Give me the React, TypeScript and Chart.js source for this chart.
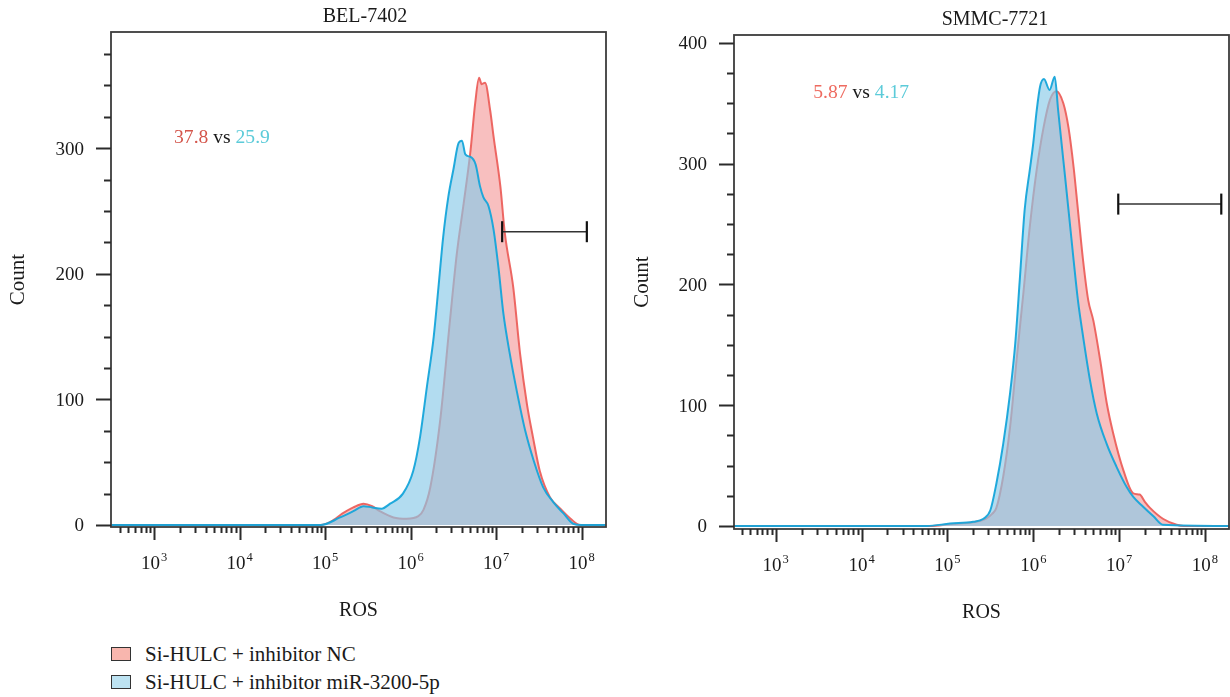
import React, { useEffect, useRef } from 'react';
import { Chart, registerables } from 'chart.js';

Chart.register(...registerables);

// ---------- data (x in log10 units of ROS intensity, y = count) ----------
const belNcX = [2.5, 4.95, 5.1, 5.2, 5.33, 5.45, 5.55, 5.64, 5.8, 5.955, 6.09, 6.15, 6.23, 6.345, 6.46, 6.54, 6.62, 6.7, 6.755, 6.8, 6.83, 6.87, 6.93, 6.97, 7.05, 7.1, 7.2, 7.28, 7.36, 7.43, 7.51, 7.63, 7.75, 7.87, 7.98, 8.28];
const belNcY = [0, 0, 4, 9, 14, 17, 15, 11, 6, 5, 7, 12, 30, 83, 163, 216, 256, 298, 336, 356, 351, 352, 330, 309, 269, 233, 189, 136, 96, 70, 43, 22, 13, 5, 0, 0];

const belMirX = [2.5, 4.95, 5.175, 5.33, 5.45, 5.55, 5.66, 5.76, 5.91, 6.03, 6.11, 6.19, 6.27, 6.325, 6.38, 6.44, 6.5, 6.56, 6.6, 6.64, 6.7, 6.76, 6.81, 6.85, 6.91, 6.97, 7.03, 7.085, 7.16, 7.24, 7.34, 7.44, 7.55, 7.67, 7.79, 7.9, 8.0, 8.28];
const belMirY = [0, 0, 6, 11, 15, 14, 13, 17, 25, 43, 70, 110, 150, 189, 229, 261, 283, 304, 306, 295, 293, 287, 270, 261, 254, 235, 203, 168, 136, 107, 75, 51, 30, 18, 9, 1, 0, 0];

const smmcNcX = [2.5, 4.8, 5.03, 5.3, 5.45, 5.52, 5.57, 5.65, 5.73, 5.805, 5.885, 5.96, 6.04, 6.12, 6.195, 6.27, 6.35, 6.41, 6.47, 6.52, 6.58, 6.64, 6.7, 6.78, 6.855, 6.93, 7.05, 7.165, 7.24, 7.3, 7.36, 7.51, 7.67, 7.75, 8.28];
const smmcNcY = [0, 0, 1.5, 3, 6, 10, 15, 41, 82, 137, 193, 248, 295, 330, 353, 360, 350, 330, 297, 262, 220, 187, 170, 137, 102, 77, 46, 27, 26, 20, 15, 6, 1, 0, 0];

const smmcMirX = [2.5, 4.76, 5.03, 5.3, 5.42, 5.5, 5.57, 5.65, 5.73, 5.79, 5.845, 5.9, 5.96, 6.0, 6.04, 6.08, 6.125, 6.19, 6.25, 6.29, 6.35, 6.41, 6.47, 6.52, 6.58, 6.66, 6.74, 6.855, 6.97, 7.09, 7.165, 7.28, 7.4, 7.51, 8.28];
const smmcMirY = [0, 0, 2, 3.5, 6, 13, 35, 68, 110, 151, 206, 262, 295, 317, 344, 364, 370, 361, 372, 344, 303, 262, 220, 187, 157, 121, 93, 68, 49, 32, 24, 16, 8, 1, 0];

// gates: [x start, x end] in log10 units, and count level
const belGateX = [7.07, 8.06];
const belGateY = [233.5];
const smmcGateX = [6.99, 8.19];
const smmcGateY = [266.5];

// percentages in gate
const belPct = ['37.8', '25.9'];
const smmcPct = ['5.87', '4.17'];

// tick labels
const decades = [3, 4, 5, 6, 7, 8];
const belCountTicks = [0, 100, 200, 300];
const smmcCountTicks = [0, 100, 200, 300, 400];

const legendLabels = ['Si-HULC + inhibitor NC', 'Si-HULC + inhibitor miR-3200-5p'];
const titles = ['BEL-7402', 'SMMC-7721'];

// ---------- styles ----------
const FONT = '"Liberation Serif", "DejaVu Serif", serif';
const RED_LINE = 'rgba(236, 96, 92, 0.95)';
const RED_FILL = 'rgba(242, 128, 128, 0.5)';
const BLUE_LINE = 'rgba(22, 165, 218, 0.95)';
const BLUE_FILL = 'rgba(138, 202, 232, 0.66)';
const AXIS = '#2b2b2b';

const decorPlugin = {
  id: 'decor',
  afterDraw(chart: any, _args: any, o: any) {
    const { ctx, chartArea: a } = chart;
    const x = chart.scales.x;
    const y = chart.scales.y;
    ctx.save();

    // frame
    ctx.strokeStyle = '#3c3c3c';
    ctx.lineWidth = 1.8;
    ctx.strokeRect(a.left, a.top, a.right - a.left, a.bottom - a.top);

    // y ticks
    ctx.strokeStyle = AXIS;
    ctx.lineWidth = 2;
    for (let v = 0; v <= y.max; v += 25) {
      const py = Math.round(y.getPixelForValue(v)) + 0.5;
      const major = v % 100 === 0;
      ctx.beginPath();
      ctx.moveTo(a.left - (major ? 15 : 7), py);
      ctx.lineTo(a.left, py);
      ctx.stroke();
    }
    ctx.fillStyle = '#1a1a1a';
    ctx.font = `19px ${FONT}`;
    ctx.textAlign = 'right';
    ctx.textBaseline = 'alphabetic';
    o.countTicks.forEach((v: number) => {
      ctx.fillText(String(v), a.left - 27, y.getPixelForValue(v) + 6.5);
    });

    // x ticks
    ctx.lineWidth = 2;
    for (let d = 2; d <= 8; d++) {
      for (let m = 1; m <= 9; m++) {
        const v = d + Math.log10(m);
        if (v < x.min || v > x.max) continue;
        const px = Math.round(x.getPixelForValue(v)) + 0.5;
        ctx.beginPath();
        ctx.moveTo(px, a.bottom);
        ctx.lineTo(px, a.bottom + (m === 1 ? 13 : 6));
        ctx.stroke();
      }
    }
    // x labels 10^n
    decades.forEach((d) => {
      const px = x.getPixelForValue(d);
      ctx.font = `19px ${FONT}`;
      const wBase = ctx.measureText('10').width;
      ctx.font = `12.5px ${FONT}`;
      const wSup = ctx.measureText(String(d)).width;
      const start = px - (wBase + wSup + 1) / 2;
      const base = a.bottom + 42;
      ctx.textAlign = 'left';
      ctx.font = `19px ${FONT}`;
      ctx.fillText('10', start, base);
      ctx.font = `12.5px ${FONT}`;
      ctx.fillText(String(d), start + wBase + 1, base - 8.3);
    });

    // axis titles
    ctx.font = `20px ${FONT}`;
    ctx.textAlign = 'center';
    ctx.fillText('ROS', (a.left + a.right) / 2, a.bottom + 88.5);
    ctx.save();
    ctx.translate(a.left - o.countOffset, (a.top + a.bottom) / 2);
    ctx.rotate(-Math.PI / 2);
    ctx.textBaseline = 'middle';
    ctx.font = `21px ${FONT}`;
    ctx.fillText('Count', 0, 0);
    ctx.restore();

    // chart title
    ctx.font = `20px ${FONT}`;
    ctx.textAlign = 'center';
    ctx.textBaseline = 'alphabetic';
    ctx.fillText(o.title, a.left + o.titleDx, a.top - 10);

    // gate
    const gx1 = x.getPixelForValue(o.gateX[0]);
    const gx2 = x.getPixelForValue(o.gateX[1]);
    const gy = y.getPixelForValue(o.gateY[0]);
    ctx.strokeStyle = '#333';
    ctx.lineWidth = 1.5;
    ctx.beginPath();
    ctx.moveTo(gx1, gy);
    ctx.lineTo(gx2, gy);
    ctx.stroke();
    ctx.strokeStyle = '#111';
    ctx.lineWidth = 2.2;
    [gx1, gx2].forEach((gx) => {
      ctx.beginPath();
      ctx.moveTo(gx, gy - 10.5);
      ctx.lineTo(gx, gy + 10.5);
      ctx.stroke();
    });

    // percentages
    ctx.font = `19.6px ${FONT}`;
    ctx.textAlign = 'left';
    let tx = x.getPixelForValue(o.textAt[0]);
    const ty = y.getPixelForValue(o.textAt[1]) + 6.5;
    const parts = [
      { t: o.pct[0], c: o.pctColors[0] },
      { t: ' vs ', c: '#1a1a1a' },
      { t: o.pct[1], c: o.pctColors[1] },
    ];
    parts.forEach((p) => {
      ctx.fillStyle = p.c;
      ctx.fillText(p.t, tx, ty);
      tx += ctx.measureText(p.t).width;
    });

    ctx.restore();
  },
};

function pts(xs: number[], ys: number[]) {
  return xs.map((v, i) => ({ x: v, y: ys[i] }));
}

function makeConfig(p: any): any {
  const common = {
    fill: 'origin',
    borderWidth: 2,
    pointRadius: 0,
    cubicInterpolationMode: 'monotone',
  };
  return {
    type: 'line',
    data: {
      datasets: [
        { ...common, label: legendLabels[0], data: pts(p.ncX, p.ncY), borderColor: RED_LINE, backgroundColor: RED_FILL, order: 2 },
        { ...common, label: legendLabels[1], data: pts(p.mirX, p.mirY), borderColor: BLUE_LINE, backgroundColor: BLUE_FILL, order: 1 },
      ],
    },
    options: {
      responsive: false,
      animation: false,
      events: [],
      layout: { padding: p.pad },
      scales: {
        x: { type: 'linear', min: p.xMin, max: p.xMax, display: false },
        y: { type: 'linear', min: p.yMin, max: p.yMax, display: false },
      },
      plugins: {
        legend: { display: false },
        tooltip: { enabled: false },
        decor: p.decor,
      },
    },
    plugins: [decorPlugin],
  };
}

function Panel(props: { cfg: any; left: number }) {
  const ref = useRef<HTMLCanvasElement | null>(null);
  useEffect(() => {
    if (!ref.current) return;
    const chart = new Chart(ref.current, makeConfig(props.cfg));
    return () => chart.destroy();
  }, []);
  return (
    <canvas
      ref={ref}
      width={615}
      height={630}
      style={{ position: 'absolute', left: props.left, top: 0, width: 615, height: 630 }}
    />
  );
}

const belCfg = {
  ncX: belNcX, ncY: belNcY, mirX: belMirX, mirY: belMirY,
  xMin: 2.497, xMax: 8.284, yMin: -1.6, yMax: 392.5,
  pad: { left: 111, top: 32, right: 9, bottom: 103 },
  decor: {
    title: titles[0], titleDx: 254, countTicks: belCountTicks, countOffset: 93,
    gateX: belGateX, gateY: belGateY,
    pct: belPct, pctColors: ['#d4554b', '#5ccbd9'], textAt: [3.234, 309],
  },
};

const smmcCfg = {
  ncX: smmcNcX, ncY: smmcNcY, mirX: smmcMirX, mirY: smmcMirY,
  xMin: 2.514, xMax: 8.28, yMin: -2.5, yMax: 406.5,
  pad: { left: 119, top: 35, right: 1, bottom: 101 },
  decor: {
    title: titles[1], titleDx: 261, countTicks: smmcCountTicks, countOffset: 92,
    gateX: smmcGateX, gateY: smmcGateY,
    pct: smmcPct, pctColors: ['#ee6b60', '#5ccbd9'], textAt: [3.438, 360],
  },
};

export default function App() {
  const legendColors = ['#f8b6ae', '#bde3f2'];
  return (
    <div style={{ position: 'fixed', left: 0, top: 0, width: 1230, height: 697, background: '#fff', overflow: 'hidden' }}>
      <Panel cfg={belCfg} left={0} />
      <Panel cfg={smmcCfg} left={615} />
      {legendLabels.map((t, i) => (
        <div
          key={t}
          style={{
            position: 'absolute', left: 111, top: 642 + i * 28, height: 24,
            display: 'flex', alignItems: 'center',
            font: `21px ${FONT}`, color: '#1a1a1a', whiteSpace: 'nowrap',
          }}
        >
          <span
            style={{
              display: 'inline-block', width: 18, height: 12, marginRight: 14,
              background: legendColors[i], border: '1.5px solid #333',
            }}
          />
          {t}
        </div>
      ))}
    </div>
  );
}
